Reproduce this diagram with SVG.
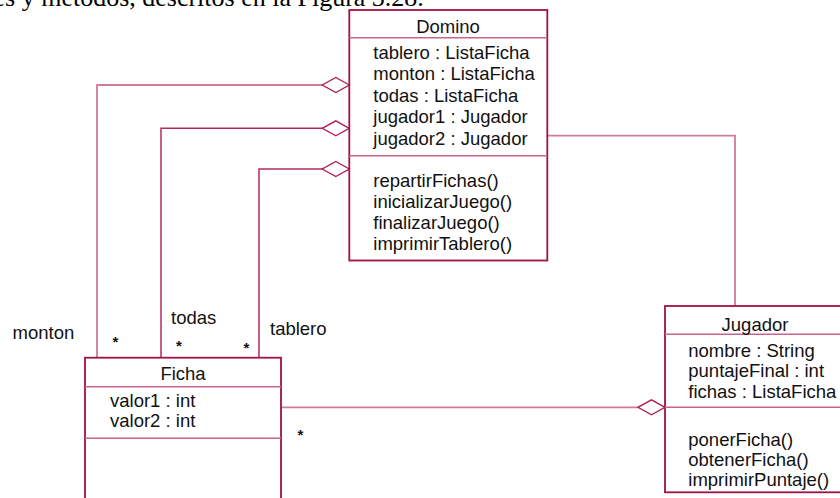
<svg xmlns="http://www.w3.org/2000/svg" xmlns:xlink="http://www.w3.org/1999/xlink" width="840" height="498" viewBox="0 0 840 498">
  <style>
    .box { fill: #ffffff; stroke: #9e1246; stroke-width: 1.8; }
    .sep { stroke: #c8658a; stroke-width: 1.5; fill: none; }
    .link { stroke: #b42a5e; stroke-width: 1.5; fill: none; }
    .link.soft { stroke: #cf7b99; stroke-width: 1.8; }
    .agg { fill: #ffffff; stroke: #b01e55; stroke-width: 1.4; }
    text { font-family: "Liberation Sans", Arial, sans-serif; font-size: 18.5px; fill: #111111; }
    .title { text-anchor: middle; }
    .mult { font-size: 15px; font-weight: bold; }
    .prose { font-family: "Liberation Serif", "Times New Roman", serif; font-size: 26px; fill: #000000; }
  </style>
  <defs>
    <!-- hollow aggregation diamond, right tip at the origin -->
    <path id="agg" class="agg" d="M0,0 L-13.5,-7.5 L-27,0 L-13.5,7.5 Z"/>
  </defs>

  <rect x="0" y="0" width="840" height="498" fill="#ffffff"/>

  <!-- running text of the page, cut by the top edge -->
  <text class="prose" x="-6.5" y="6">es y métodos, descritos en la Figura 3.28.</text>

  <!-- connectors -->
  <g id="connectors">
    <!-- Domino aggregates Ficha (monton, todas, tablero) -->
    <polyline class="link soft" points="97,357.7 97,85 323,85"/>
    <polyline class="link" points="161,357.7 161,128.3 323,128.3"/>
    <polyline class="link" points="259,357.7 259,169 323,169"/>
    <!-- Domino to Jugador -->
    <polyline class="link soft" points="547,135.7 735,135.7 735,306"/>
    <!-- Jugador aggregates Ficha -->
    <line class="link soft" x1="281" y1="407.3" x2="638" y2="407.3"/>
    <use xlink:href="#agg" x="349.3" y="85"/>
    <use xlink:href="#agg" x="349.3" y="128.3"/>
    <use xlink:href="#agg" x="349.3" y="169"/>
    <use xlink:href="#agg" x="665" y="407.3"/>
    <!-- role names and multiplicities -->
    <text x="12.5" y="339">monton</text>
    <text x="171" y="323.5">todas</text>
    <text x="270" y="335">tablero</text>
    <text class="mult" x="112.5" y="347">*</text>
    <text class="mult" x="176" y="351">*</text>
    <text class="mult" x="243.5" y="352.5">*</text>
    <text class="mult" x="297.5" y="440">*</text>
  </g>

  <!-- class Domino -->
  <g id="domino">
    <rect class="box" x="349.3" y="10" width="198" height="250.5"/>
    <line class="sep" x1="349.3" y1="37.7" x2="547.3" y2="37.7"/>
    <line class="sep" x1="349.3" y1="155.7" x2="547.3" y2="155.7"/>
    <text class="title" x="448" y="33">Domino</text>
    <text x="373.3" y="58.5">tablero : ListaFicha</text>
    <text x="373.3" y="80">monton : ListaFicha</text>
    <text x="373.3" y="101.5">todas : ListaFicha</text>
    <text x="373.3" y="123">jugador1 : Jugador</text>
    <text x="373.3" y="144.5">jugador2 : Jugador</text>
    <text x="373.3" y="186.5">repartirFichas()</text>
    <text x="373.3" y="207.8">inicializarJuego()</text>
    <text x="373.3" y="229">finalizarJuego()</text>
    <text x="373.3" y="250.3">imprimirTablero()</text>
  </g>

  <!-- class Jugador -->
  <g id="jugador">
    <rect class="box" x="665" y="306" width="200" height="186.3"/>
    <line class="sep" x1="665" y1="334.3" x2="840" y2="334.3"/>
    <line class="sep" x1="665" y1="407.3" x2="840" y2="407.3"/>
    <text class="title" x="755" y="330.7">Jugador</text>
    <text x="688.3" y="356.7">nombre : String</text>
    <text x="688.3" y="377.3">puntajeFinal : int</text>
    <text x="688.3" y="397.5">fichas : ListaFicha</text>
    <text x="688.3" y="445.7">ponerFicha()</text>
    <text x="688.3" y="465.7">obtenerFicha()</text>
    <text x="688.3" y="485.5">imprimirPuntaje()</text>
  </g>

  <!-- class Ficha -->
  <g id="ficha">
    <rect class="box" x="85" y="357.7" width="196" height="170"/>
    <line class="sep" x1="85" y1="386.7" x2="281" y2="386.7"/>
    <line class="sep" x1="85" y1="438.3" x2="281" y2="438.3"/>
    <text class="title" x="183" y="380">Ficha</text>
    <text x="110" y="406.7">valor1 : int</text>
    <text x="110" y="427.3">valor2 : int</text>
  </g>
</svg>
